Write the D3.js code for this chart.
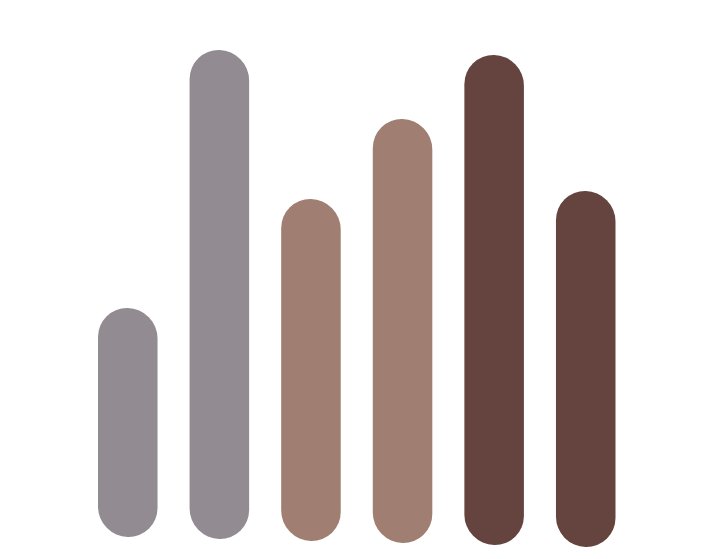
<!DOCTYPE html>
<html>
<head>
<meta charset="utf-8">
<script src="https://cdn.jsdelivr.net/npm/d3@7"></script>
<style>
  html, body { margin: 0; padding: 0; background: #fff; }
</style>
</head>
<body>
<div id="chart"></div>
<script>
// data
var categories = ["A", "B", "C", "D", "E", "F"];
var values = [45.8, 97.8, 68.4, 84.8, 98.0, 71.2];
var groups = ["g1", "g1", "g2", "g2", "g3", "g3"];
var groupColors = ["#928b92", "#a07e71", "#65433e"];

const width = 718, height = 559;
const slope = 0.022; // the baseline leans a bit to the right
const base = 537 - slope * 128;

var svg = d3
  .select("#chart")
  .append("svg")
  .attr("width", width)
  .attr("height", height);

var g = svg
  .append("g")
  .attr("transform", `skewY(${(Math.atan(slope) * 180) / Math.PI})`);

const x = d3
  .scaleBand()
  .domain(categories)
  .range([98, 615.5])
  .paddingInner(0.35)
  .paddingOuter(0);

const y = d3.scaleLinear().domain([0, 100]).range([base, base - 500]);

const color = d3.scaleOrdinal().domain(["g1", "g2", "g3"]).range(groupColors);

var ddata = categories.map((c, i) => ({ cat: c, value: values[i], group: groups[i] }));

g.selectAll("rect")
  .data(ddata)
  .join("rect")
  .attr("x", (d) => x(d.cat))
  .attr("width", x.bandwidth())
  .attr("y", (d) => y(d.value))
  .attr("height", (d) => y(0) - y(d.value))
  .attr("rx", x.bandwidth() / 2)
  .attr("ry", x.bandwidth() / 2)
  .attr("fill", (d) => color(d.group));
</script>
</body>
</html>
